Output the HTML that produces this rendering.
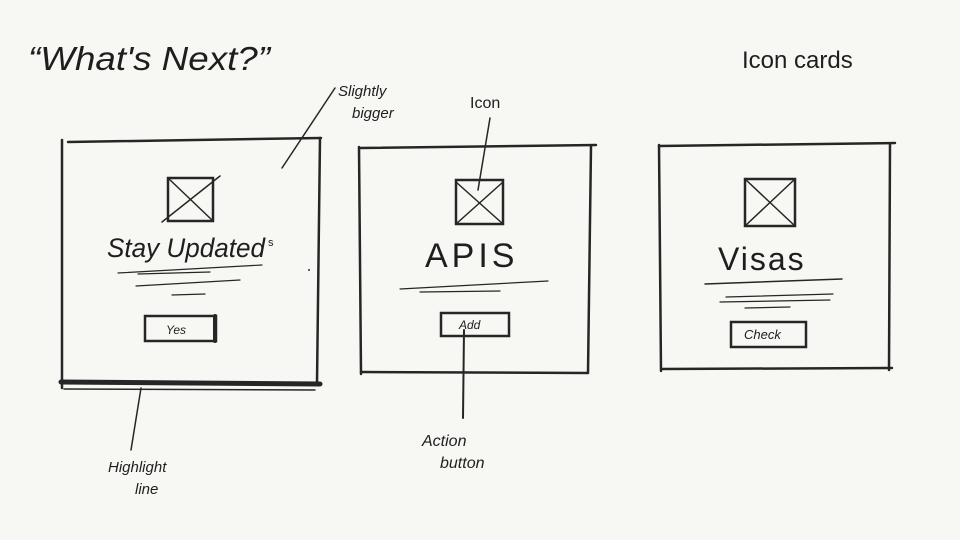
<!DOCTYPE html>
<html><head><meta charset="utf-8"><style>
html,body{margin:0;padding:0;background:#f7f7f4;width:960px;height:540px;overflow:hidden}
svg{display:block}
text{font-family:"Liberation Sans",sans-serif;fill:#1e1e1e}
</style></head><body>
<svg width="960" height="540" viewBox="0 0 960 540" xmlns="http://www.w3.org/2000/svg">
<rect width="960" height="540" fill="#f7f7f4"/>
<g stroke="#262626" fill="none" stroke-linecap="round">
<line x1="68" y1="142" x2="321" y2="138" stroke-width="2.5"/>
<line x1="62" y1="140" x2="62" y2="388" stroke-width="2.5"/>
<line x1="320" y1="138" x2="317" y2="383" stroke-width="2.5"/>
<line x1="61" y1="382" x2="320" y2="384" stroke-width="5"/>
<line x1="64" y1="389" x2="315" y2="390" stroke-width="1.5"/>
<rect x="168" y="178" width="45" height="43" stroke-width="2.5"/>
<line x1="168" y1="178" x2="213" y2="221" stroke-width="1.5"/>
<line x1="162" y1="222" x2="220" y2="176" stroke-width="1.5"/>
<line x1="118" y1="273" x2="262" y2="265" stroke-width="1.2"/>
<line x1="138" y1="274" x2="210" y2="272" stroke-width="1.2"/>
<line x1="136" y1="286" x2="240" y2="280" stroke-width="1.2"/>
<line x1="172" y1="295" x2="205" y2="294" stroke-width="1.2"/>
<rect x="145" y="316" width="71" height="25" stroke-width="2.5"/>
<line x1="215" y1="316" x2="215" y2="341" stroke-width="4"/>
<line x1="360" y1="148" x2="596" y2="145" stroke-width="2.5"/>
<line x1="359" y1="147" x2="361" y2="374" stroke-width="2.5"/>
<line x1="591" y1="146" x2="588" y2="373" stroke-width="2.5"/>
<line x1="361" y1="372" x2="588" y2="373" stroke-width="2.5"/>
<rect x="456" y="180" width="47" height="44" stroke-width="2.5"/>
<line x1="456" y1="182" x2="503" y2="224" stroke-width="1.5"/>
<line x1="456" y1="224" x2="503" y2="182" stroke-width="1.5"/>
<line x1="400" y1="289" x2="548" y2="281" stroke-width="1.2"/>
<line x1="420" y1="292" x2="500" y2="291" stroke-width="1.2"/>
<rect x="441" y="313" width="68" height="23" stroke-width="2.5"/>
<line x1="659" y1="146" x2="895" y2="143" stroke-width="2.5"/>
<line x1="659" y1="145" x2="661" y2="371" stroke-width="2.5"/>
<line x1="890" y1="144" x2="889" y2="370" stroke-width="2.5"/>
<line x1="662" y1="369" x2="892" y2="368" stroke-width="2.5"/>
<rect x="745" y="179" width="50" height="47" stroke-width="2.5"/>
<line x1="745" y1="179" x2="795" y2="226" stroke-width="1.5"/>
<line x1="745" y1="226" x2="795" y2="179" stroke-width="1.5"/>
<line x1="705" y1="284" x2="842" y2="279" stroke-width="1.5"/>
<line x1="726" y1="297" x2="833" y2="294" stroke-width="1.2"/>
<line x1="720" y1="302" x2="830" y2="300" stroke-width="1.2"/>
<line x1="745" y1="308" x2="790" y2="307" stroke-width="1.2"/>
<rect x="731" y="322" width="75" height="25" stroke-width="2.5"/>
<line x1="335" y1="88" x2="282" y2="168" stroke-width="1.5"/>
<line x1="490" y1="118" x2="478" y2="190" stroke-width="1.5"/>
<line x1="464" y1="330" x2="463" y2="418" stroke-width="2"/>
<line x1="141" y1="388" x2="131" y2="450" stroke-width="1.5"/>
</g>
<circle cx="309" cy="270" r="1" fill="#333"/>
<text x="28" y="70" font-size="33" font-style="italic" textLength="242" lengthAdjust="spacingAndGlyphs">“What's Next?”</text>
<text x="742" y="68" font-size="24">Icon cards</text>
<text x="338" y="96" font-size="15" font-style="italic">Slightly</text>
<text x="352" y="118" font-size="15" font-style="italic">bigger</text>
<text x="470" y="108" font-size="16">Icon</text>
<text x="422" y="446" font-size="16" font-style="italic">Action</text>
<text x="440" y="468" font-size="16" font-style="italic">button</text>
<text x="108" y="472" font-size="15" font-style="italic">Highlight</text>
<text x="135" y="494" font-size="15" font-style="italic">line</text>
<text x="107" y="257" font-size="27" font-style="italic" textLength="158" lengthAdjust="spacingAndGlyphs">Stay Updated</text>
<text x="268" y="246" font-size="11">s</text>
<text x="425" y="267" font-size="34" letter-spacing="4">APIS</text>
<text x="718" y="270" font-size="32" letter-spacing="2">Visas</text>
<text x="166" y="334" font-size="12" font-style="italic">Yes</text>
<text x="459" y="329" font-size="12" font-style="italic">Add</text>
<text x="744" y="339" font-size="13" font-style="italic">Check</text>
</svg>
</body></html>
